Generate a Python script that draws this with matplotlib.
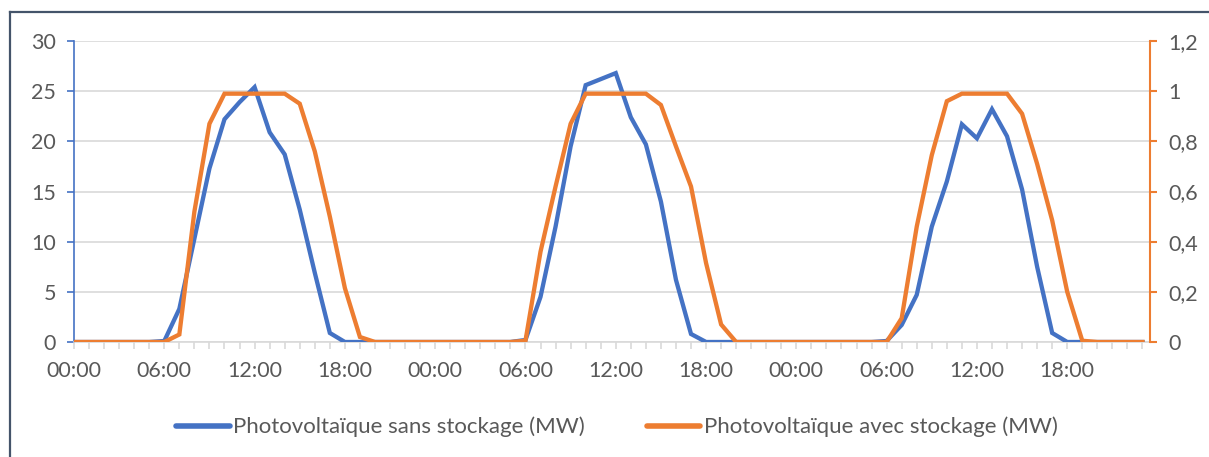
import numpy as np
import matplotlib
matplotlib.use('Agg')
import matplotlib.pyplot as plt
from matplotlib.lines import Line2D
from matplotlib.ticker import FuncFormatter, MultipleLocator

plt.rcParams['font.family'] = ['Lato', 'DejaVu Sans']

# hourly values over three days (72 points)
hours = np.arange(72)
tick_pos = [0, 6, 12, 18, 24, 30, 36, 42, 48, 54, 60, 66]
tick_labels = ['00:00', '06:00', '12:00', '18:00'] * 3

pv_sans = [0, 0, 0, 0, 0, 0, 0.1, 3.3, 10.3, 17.3, 22.2, 23.9,
           25.4, 20.9, 18.7, 13.2, 6.9, 0.9, 0, 0, 0, 0, 0, 0,
           0, 0, 0, 0, 0, 0, 0.2, 4.5, 11.5, 19.5, 25.6, 26.2,
           26.8, 22.4, 19.7, 14.0, 6.2, 0.8, 0, 0, 0, 0, 0, 0,
           0, 0, 0, 0, 0, 0, 0.1, 1.7, 4.7, 11.5, 16.0, 21.7,
           20.3, 23.2, 20.5, 15.2, 7.5, 0.9, 0, 0, 0, 0, 0, 0]

pv_avec = [0, 0, 0, 0, 0, 0, 0, 0.03, 0.52, 0.87, 0.99, 0.99,
           0.99, 0.99, 0.99, 0.95, 0.76, 0.50, 0.215, 0.02, 0, 0, 0, 0,
           0, 0, 0, 0, 0, 0, 0.005, 0.36, 0.62, 0.87, 0.99, 0.99,
           0.99, 0.99, 0.99, 0.945, 0.78, 0.62, 0.315, 0.07, 0, 0, 0, 0,
           0, 0, 0, 0, 0, 0, 0, 0.095, 0.46, 0.745, 0.96, 0.99,
           0.99, 0.99, 0.99, 0.91, 0.71, 0.485, 0.2, 0.005, 0, 0, 0, 0]

BLUE = '#4472C4'
ORANGE = '#ED7D31'
TXT = '#595959'
GRID = '#D9D9D9'
FS = 15.5

fig = plt.figure(figsize=(12.09, 4.57), dpi=100)
ax = fig.add_axes([74/1209, 1 - 342/457, (1150-74)/1209, (342-41)/457])
ax2 = ax.twinx()

ax.plot(hours, pv_sans, color=BLUE, lw=3.1, solid_joinstyle='miter', zorder=3)
ax2.plot(hours, pv_avec, color=ORANGE, lw=3.1, solid_joinstyle='miter', zorder=3)

ax.set_xlim(0, 71.5)
ax.set_ylim(0, 30)
ax2.set_ylim(0, 1.2)

ax.yaxis.set_major_locator(MultipleLocator(5))
ax2.yaxis.set_major_locator(MultipleLocator(0.2))
ax2.yaxis.set_major_formatter(FuncFormatter(lambda v, p: f'{round(v, 1):g}'.replace('.', ',')))

ax.set_xticks(tick_pos)
ax.set_xticklabels(tick_labels)
ax.set_xticks(hours, minor=True)

ax.grid(axis='y', color=GRID, lw=1.2)
ax.set_axisbelow(True)

for a in (ax, ax2):
    a.spines['top'].set_visible(False)
ax.spines['right'].set_visible(False)
ax2.spines['left'].set_visible(False)
ax2.spines['bottom'].set_visible(False)
ax.spines['left'].set_color(BLUE)
ax.spines['left'].set_linewidth(1.2)
ax2.spines['right'].set_color(ORANGE)
ax2.spines['right'].set_linewidth(1.5)
ax.spines['bottom'].set_color(GRID)
ax.spines['bottom'].set_linewidth(1.2)

ax.tick_params(axis='y', colors=BLUE, labelcolor=TXT, labelsize=FS, length=5, width=1.2, pad=8)
ax2.tick_params(axis='y', colors=ORANGE, labelcolor=TXT, labelsize=FS, length=5, width=1.5, pad=8)
ax.tick_params(axis='x', which='major', length=5, color=GRID, width=1.2, labelcolor=TXT, labelsize=FS, pad=9)
ax.tick_params(axis='x', which='minor', length=5, color=GRID, width=1.2)

handles = [Line2D([], [], color=BLUE, lw=4, solid_capstyle='round'),
           Line2D([], [], color=ORANGE, lw=4, solid_capstyle='round')]
fig.legend(handles, ['Photovoltaïque sans stockage (MW)', 'Photovoltaïque avec stockage (MW)'],
           loc='center', bbox_to_anchor=(617/1209, 1 - 427/457), ncol=2, frameon=False,
           fontsize=16, labelcolor=TXT, handlelength=2.4, handletextpad=0.15, columnspacing=2.8)

# outer chart frame (top and left edges visible)
FRAME = '#44546A'
fig.add_artist(Line2D([10/1209, 1], [1 - 12/457, 1 - 12/457], color=FRAME, lw=1.6, transform=fig.transFigure))
fig.add_artist(Line2D([10/1209, 10/1209], [0, 1 - 12/457], color=FRAME, lw=1.6, transform=fig.transFigure))

fig.savefig('out.png', dpi=100)
